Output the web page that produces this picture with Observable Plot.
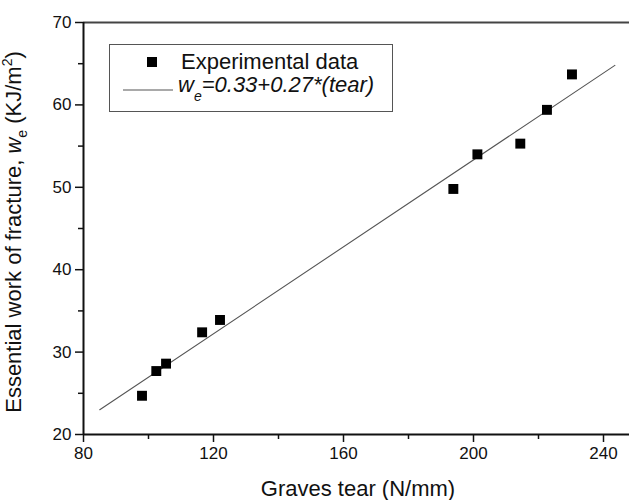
<!DOCTYPE html>
<html><head><meta charset="utf-8">
<script src="https://cdn.jsdelivr.net/npm/d3@7"></script>
<script src="https://cdn.jsdelivr.net/npm/@observablehq/plot@0.6"></script>
<style>body{margin:0;background:#fff;} #chart{width:629px;height:500px;}</style>
</head><body><div id="chart"></div>
<script>
const tear = [98.0, 102.4, 105.4, 116.5, 122.0, 193.8, 201.2, 214.4, 222.6, 230.3];
const workFracture = [24.7, 27.7, 28.6, 32.4, 33.9, 49.8, 54.0, 55.3, 59.4, 63.7];
const fitTear = [85, 243.5];
const fitWork = [23.0, 64.8];
const xTicks = [80, 120, 160, 200, 240];
const xMinor = [100, 140, 180, 220];
const yTicks = [20, 30, 40, 50, 60, 70];
const yMinor = [25, 35, 45, 55, 65];
const xTitle = "Graves tear (N/mm)";
const legendPoints = "Experimental data";

const points = tear.map((t, i) => ({tear: t, we: workFracture[i]}));
const fit = fitTear.map((t, i) => ({tear: t, we: fitWork[i]}));
const font = "Arial, 'Liberation Sans', sans-serif";

const chart = Plot.plot({
  width: 629, height: 500,
  marginLeft: 83, marginRight: 0, marginTop: 22, marginBottom: 66,
  style: {fontFamily: font, background: "#fff", color: "#111", overflow: "visible"},
  x: {domain: [80, 248]},
  y: {domain: [20, 70]},
  marks: [
    Plot.ruleY([70], {stroke: "#444", strokeWidth: 2}),
    Plot.axisX(xMinor, {tickSize: 5, text: null, label: null, stroke: "#111", strokeWidth: 1.5}),
    Plot.axisX(xTicks, {tickSize: 8, tickPadding: 4, fontSize: 17, label: null, stroke: "#111", strokeWidth: 1.5, fill: "#111"}),
    Plot.axisY(yMinor, {tickSize: 5, text: null, label: null, stroke: "#111", strokeWidth: 1.5}),
    Plot.axisY(yTicks, {tickSize: 8, tickPadding: 4, fontSize: 17, label: null, stroke: "#111", strokeWidth: 1.5, fill: "#111"}),
    Plot.ruleY([20], {stroke: "#111", strokeWidth: 2}),
    Plot.ruleX([80], {stroke: "#111", strokeWidth: 2}),
    Plot.line(fit, {x: "tear", y: "we", stroke: "#555", strokeWidth: 1.1}),
    Plot.dot(points, {x: "tear", y: "we", symbol: "square", r: 5.6, fill: "#000", stroke: "none"})
  ]
});
document.getElementById("chart").appendChild(chart);

const svg = d3.select(chart);
// x axis title
svg.append("text").attr("x", 358).attr("y", 496).attr("text-anchor", "middle")
  .attr("font-family", font).attr("font-size", 22).attr("fill", "#111").text(xTitle);
// y axis title with subscript/superscript
const yl = svg.append("text").attr("transform", "translate(21,232) rotate(-90)")
  .attr("text-anchor", "middle").attr("font-family", font).attr("font-size", 22).attr("fill", "#111");
yl.append("tspan").text("Essential work of fracture, ");
yl.append("tspan").attr("font-style", "italic").text("w");
yl.append("tspan").attr("font-size", 14).attr("dy", 6).text("e");
yl.append("tspan").attr("dy", -6).text(" (KJ/m");
yl.append("tspan").attr("font-size", 14).attr("dy", -9).text("2");
yl.append("tspan").attr("dy", 9).text(")");

// legend
const lg = svg.append("g").attr("text-anchor", "start");
lg.append("rect").attr("x", 109.5).attr("y", 44.5).attr("width", 283).attr("height", 67)
  .attr("fill", "#fff").attr("stroke", "#555").attr("stroke-width", 1);
lg.append("rect").attr("x", 147).attr("y", 57).attr("width", 10).attr("height", 10).attr("fill", "#000");
lg.append("text").attr("x", 181).attr("y", 69).attr("text-anchor", "start").attr("font-family", font).attr("font-size", 22)
  .attr("fill", "#111").text(legendPoints);
lg.append("line").attr("x1", 123).attr("x2", 173).attr("y1", 90).attr("y2", 90)
  .attr("stroke", "#555").attr("stroke-width", 1.1);
const lt = lg.append("text").attr("x", 178).attr("y", 92).attr("text-anchor", "start").attr("font-family", font).attr("font-size", 22)
  .attr("font-style", "italic").attr("fill", "#111");
lt.append("tspan").text("w");
lt.append("tspan").attr("font-size", 14).attr("dy", 9).text("e");
lt.append("tspan").attr("dy", -9).text("=0.33+0.27*(tear)");
</script>
</body></html>
